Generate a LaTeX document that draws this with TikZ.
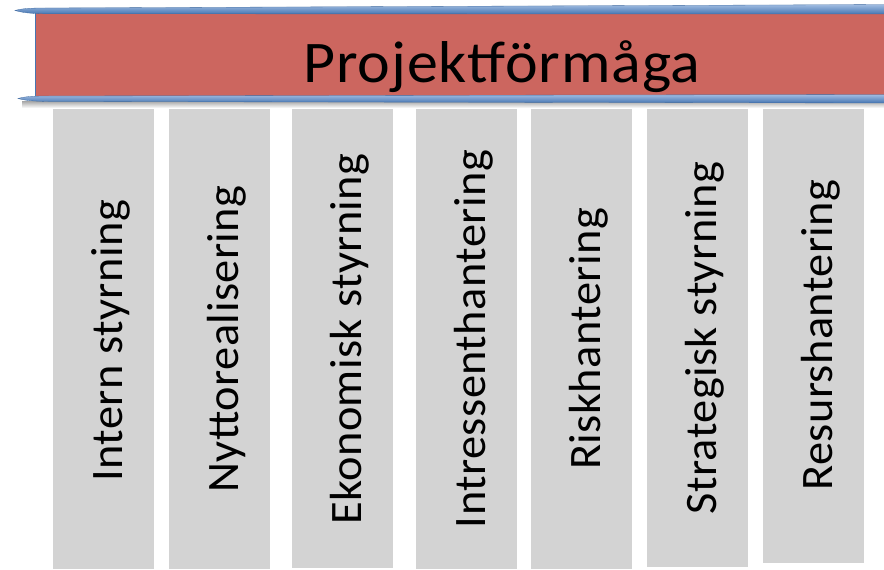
\documentclass[tikz,border=0pt]{standalone}
\usepackage{fontspec}
\setmainfont{Carlito}
\newfontfamily\titlefont[FakeStretch=1.05,LetterSpace=1.5]{Carlito}
\newfontfamily\pillarfont[FakeStretch=1.03,LetterSpace=1]{Carlito}
\definecolor{bannerred}{RGB}{204,102,95}
\definecolor{ribbonlight}{RGB}{160,188,226}
\definecolor{ribbondark}{RGB}{70,118,178}
\definecolor{colgray}{RGB}{211,211,211}
\begin{document}
\begin{tikzpicture}[x=1pt,y=-1pt,
  pillar/.style={fill=colgray,draw=none},
  pillartext/.style={rotate=90,anchor=base,inner sep=0pt,font=\pillarfont\fontsize{45}{50}\selectfont,text=black},
  titletext/.style={anchor=base,inner sep=0pt,font=\titlefont\fontsize{59}{64}\selectfont,text=black},
  ribbon/.style={top color=ribbonlight,bottom color=ribbondark,draw=ribbondark!90!black,line width=0.3pt}]
\useasboundingbox (0,0) rectangle (884,570);
\fill[white] (0,0) rectangle (884,570);
% shadow under banner
\shade[top color=black!35,bottom color=white] (22,101) rectangle (884,108);
% banner
\fill[bannerred] (35,13) rectangle (890,96);
\draw[ribbondark,line width=1.5pt] (35.5,13) -- (35.5,96);
% top ribbon
\path[ribbon] (15,10.5) .. controls (22,8.5) and (30,8) .. (45,8) -- (890,4.5) -- (890,14) -- (45,13.8) .. controls (30,13.6) and (22,12.5) .. (15,10.5) -- cycle;
% bottom ribbon
\path[ribbon] (18,98.5) .. controls (25,96.5) and (33,96) .. (48,96) -- (890,94.5) -- (890,103) -- (48,101.5) .. controls (33,101.2) and (25,100.5) .. (18,98.5) -- cycle;
\node[titletext] (title) at (502,82) {Projektförmåga};
% pillars
\path[pillar] (53,109) rectangle (154,569);
\path[pillar] (169,109) rectangle (270,569);
\path[pillar] (292,109) rectangle (393,568);
\path[pillar] (416,109) rectangle (517,569);
\path[pillar] (531,109) rectangle (632,569);
\path[pillar] (647,109) rectangle (748,567);
\path[pillar] (763,109) rectangle (864,563);
\node[pillartext] (t1) at (122,341) {Intern styrning};
\node[pillartext] (t2) at (238,339) {Nyttorealisering};
\node[pillartext] (t3) at (361,339) {Ekonomisk styrning};
\node[pillartext] (t4) at (485,339) {Intressenthantering};
\node[pillartext] (t5) at (600,339) {Riskhantering};
\node[pillartext] (t6) at (716,338) {Strategisk styrning};
\node[pillartext] (t7) at (832,335) {Resurshantering};
\end{tikzpicture}
\end{document}
